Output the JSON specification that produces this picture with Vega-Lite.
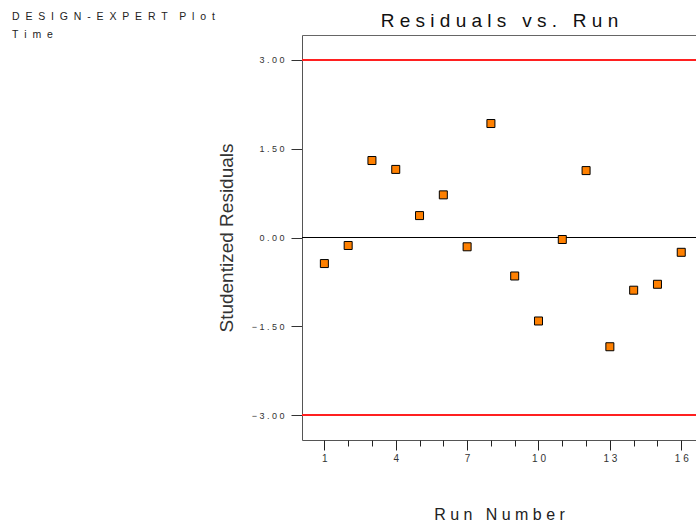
{
  "$schema": "https://vega.github.io/schema/vega-lite/v6.json",
  "width": 394,
  "height": 405,
  "autosize": {"type": "none"},
  "padding": {"left": 302, "top": 35, "right": 0, "bottom": 84},
  "background": "white",
  "config": {
    "view": {"stroke": null},
    "font": "Liberation Sans",
    "axis": {"grid": false, "labelFont": "Liberation Sans", "titleFont": "Liberation Sans"}
  },
  "title": {
    "text": "D\u00a0 E\u00a0 S\u00a0 I\u00a0 G\u00a0 N\u00a0 -\u00a0 E\u00a0 X\u00a0 P\u00a0 E\u00a0 R\u00a0 T\u00a0 \u00a0 P\u00a0 l\u00a0 o\u00a0 t",
    "subtitle": "T\u00a0 i\u00a0 m\u00a0 e",
    "anchor": "start",
    "frame": "group",
    "dx": -290,
    "dy": 29,
    "offset": 0,
    "fontSize": 10.5,
    "subtitleFontSize": 10.5,
    "fontWeight": "normal",
    "color": "#222",
    "subtitleColor": "#222",
    "subtitlePadding": 7,
    "font": "Liberation Sans",
    "subtitleFont": "Liberation Sans"
  },
  "data": {
    "values": [
      {"run": 1, "res": -0.44},
      {"run": 2, "res": -0.135},
      {"run": 3, "res": 1.30},
      {"run": 4, "res": 1.15},
      {"run": 5, "res": 0.37},
      {"run": 6, "res": 0.72},
      {"run": 7, "res": -0.157},
      {"run": 8, "res": 1.925},
      {"run": 9, "res": -0.65},
      {"run": 10, "res": -1.41},
      {"run": 11, "res": -0.034},
      {"run": 12, "res": 1.13},
      {"run": 13, "res": -1.845},
      {"run": 14, "res": -0.89},
      {"run": 15, "res": -0.79},
      {"run": 16, "res": -0.25}
    ]
  },
  "layer": [
    {
      "mark": {"type": "rule", "color": "#ff2020", "strokeWidth": 1.6},
      "encoding": {"y": {"datum": 3}}
    },
    {
      "mark": {"type": "rule", "color": "#ff2020", "strokeWidth": 1.6},
      "encoding": {"y": {"datum": -3}}
    },
    {
      "mark": {"type": "rule", "color": "#000000", "strokeWidth": 1},
      "encoding": {"y": {"datum": 0}}
    },
    {
      "mark": {"type": "point", "shape": "square", "filled": true, "fill": "#ff8000", "stroke": "#000000", "strokeWidth": 1, "size": 64, "opacity": 1},
      "encoding": {
        "x": {
          "field": "run", "type": "quantitative",
          "scale": {"domain": [0.06, 16.62], "nice": false, "zero": false},
          "axis": {
            "orient": "bottom",
            "values": [1, 4, 7, 10, 13, 16],
            "tickSize": 10,
            "tickColor": "#222",
            "domainColor": "#555",
            "labelExpr": "join(split(format(datum.value, 'd'), ''), ' ')",
            "labelFontSize": 10,
            "labelColor": "#333",
            "labelPadding": 3,
            "labelFlush": false,
            "title": "R u n \u00a0 N u m b e r",
            "titleFontSize": 16,
            "titleFontWeight": "normal",
            "titleColor": "#222",
            "titlePadding": 43
          }
        },
        "y": {
          "field": "res", "type": "quantitative",
          "scale": {"domain": [-3.42, 3.42], "nice": false, "zero": false},
          "axis": {
            "values": [-3, -1.5, 0, 1.5, 3],
            "tickSize": 11,
            "tickColor": "#333",
            "domainColor": "#555",
            "labelExpr": "join(split(format(datum.value, '.2f'), ''), ' ')",
            "labelFontSize": 9,
            "labelColor": "#333",
            "labelPadding": 7,
            "title": "Studentized Residuals",
            "titleFontSize": 19,
            "titleFontWeight": "normal",
            "titleColor": "#333",
            "titlePadding": 15
          }
        }
      }
    },
    {
      "mark": {"type": "point", "opacity": 0},
      "encoding": {
        "x": {"field": "run", "type": "quantitative", "axis": {"orient": "top", "ticks": false, "labels": false, "domainColor": "#666", "title": "R e s i d u a l s \u00a0 v s . \u00a0 R u n", "titleFontSize": 19, "titleFontWeight": "normal", "titleColor": "#111", "titlePadding": 5}},
        "y": {"field": "res", "type": "quantitative"}
      }
    },
    {
      "mark": {"type": "point", "opacity": 0},
      "encoding": {
        "x": {"field": "run", "type": "quantitative", "axis": {"orient": "bottom", "values": [1, 2, 3, 4, 5, 6, 7, 8, 9, 10, 11, 12, 13, 14, 15, 16], "tickSize": 6, "tickColor": "#222", "labels": false, "domain": false, "title": null}}
      }
    }
  ],
  "resolve": {"axis": {"x": "independent"}}
}
